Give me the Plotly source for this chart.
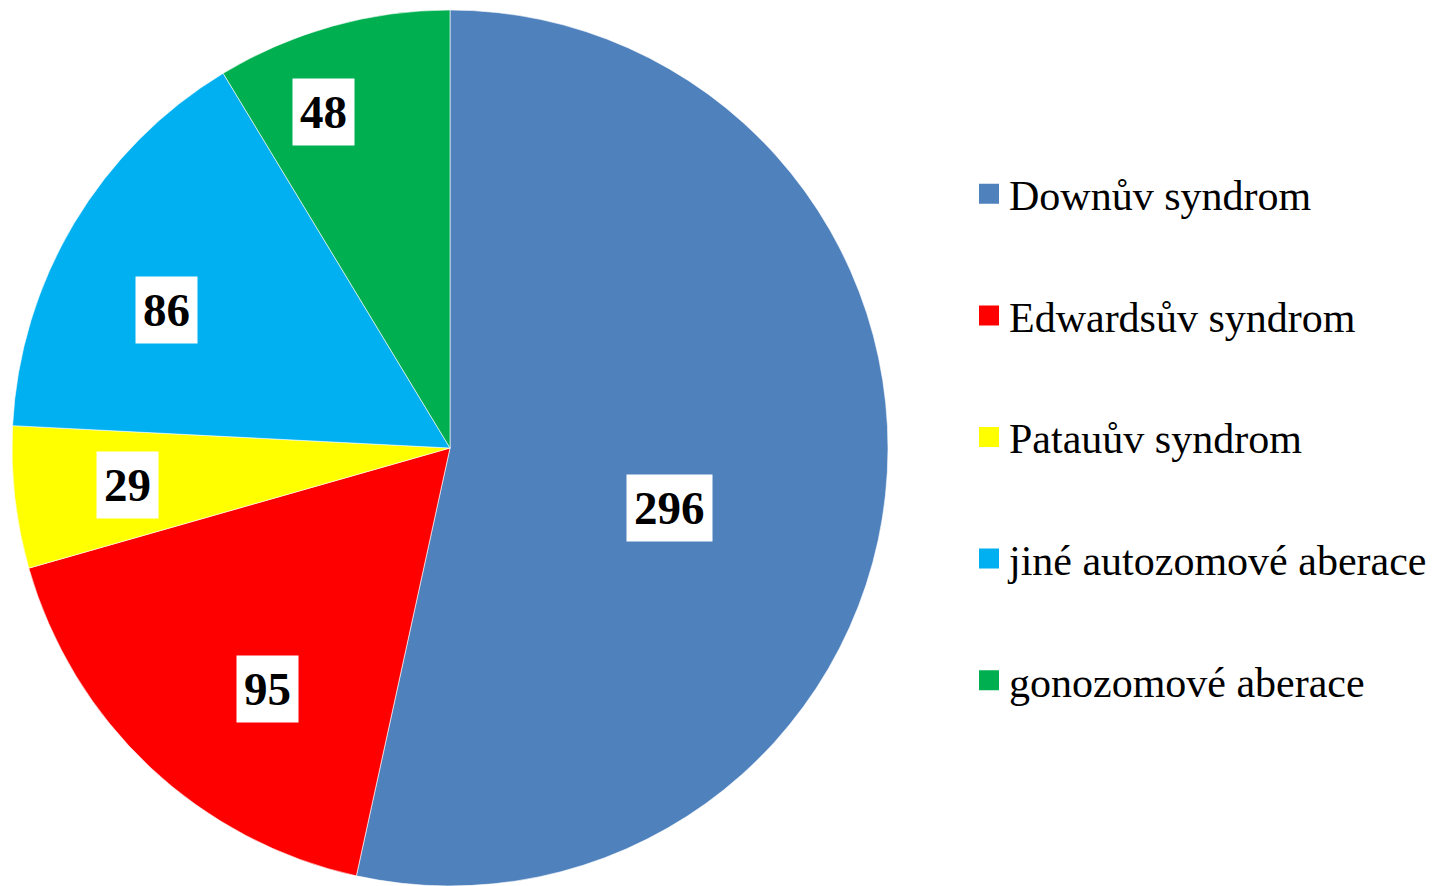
import math
import plotly.graph_objects as go

# data
labels = ["Downův syndrom", "Edwardsův syndrom", "Patauův syndrom",
          "jiné autozomové aberace", "gonozomové aberace"]
values = [296, 95, 29, 86, 48]
colors = ["#4F81BD", "#FF0000", "#FFFF00", "#00B0F0", "#00B050"]

# label placement (fraction of radius, angle tweak in degrees)
LABEL_R = [0.52, 0.69, 0.74, 0.72, 0.82]
LABEL_DA = [9, -6, 0, -5, -5]

# page body has an 8px margin, so the figure is a bit smaller
W, H = 1429, 878
CX, R = 442, 438
y_top = 876 / H

fig = go.Figure()
fig.add_trace(go.Pie(
    labels=labels, values=values, sort=False, direction="clockwise", rotation=0,
    marker=dict(colors=colors, line=dict(color="white", width=0.6)),
    textinfo="none", hoverinfo="label+value", showlegend=False,
    domain=dict(x=[(CX - R) / W, (CX + R) / W], y=[0, y_top]),
))

# legend via dummy traces so item spacing can be controlled
for lab, col in zip(labels, colors):
    fig.add_trace(go.Scatter(
        x=[None], y=[None], mode="markers", name=lab, legendgroup=lab,
        marker=dict(symbol="square", size=16, color=col,
                    line=dict(color=col, width=4)),
    ))

# data labels with white boxes
total = sum(values)
cy = H * (1 - y_top / 2)
cum = 0
for v, f, da in zip(values, LABEL_R, LABEL_DA):
    mid = (cum + v / 2) / total * 360 + da
    cum += v
    th = math.radians(mid)
    px = CX + R * f * math.sin(th)
    py = cy - R * f * math.cos(th)
    fig.add_annotation(
        x=px / W, y=1 - py / H, xref="paper", yref="paper", showarrow=False,
        xanchor="center", yanchor="middle",
        text=f"<b>{v}</b>", bgcolor="white", borderpad=7,
        font=dict(family="Liberation Serif", size=47, color="black"),
    )

fig.update_xaxes(visible=False)
fig.update_yaxes(visible=False)
fig.update_layout(
    width=W, height=H,
    margin=dict(l=0, r=0, t=0, b=0),
    paper_bgcolor="white", plot_bgcolor="white",
    font=dict(family="Liberation Serif", color="black"),
    legend=dict(x=0.6725, y=0.5114, xanchor="left", yanchor="middle",
                font=dict(size=42, family="Liberation Serif"),
                tracegroupgap=64),
)

fig.write_html("out.html")
